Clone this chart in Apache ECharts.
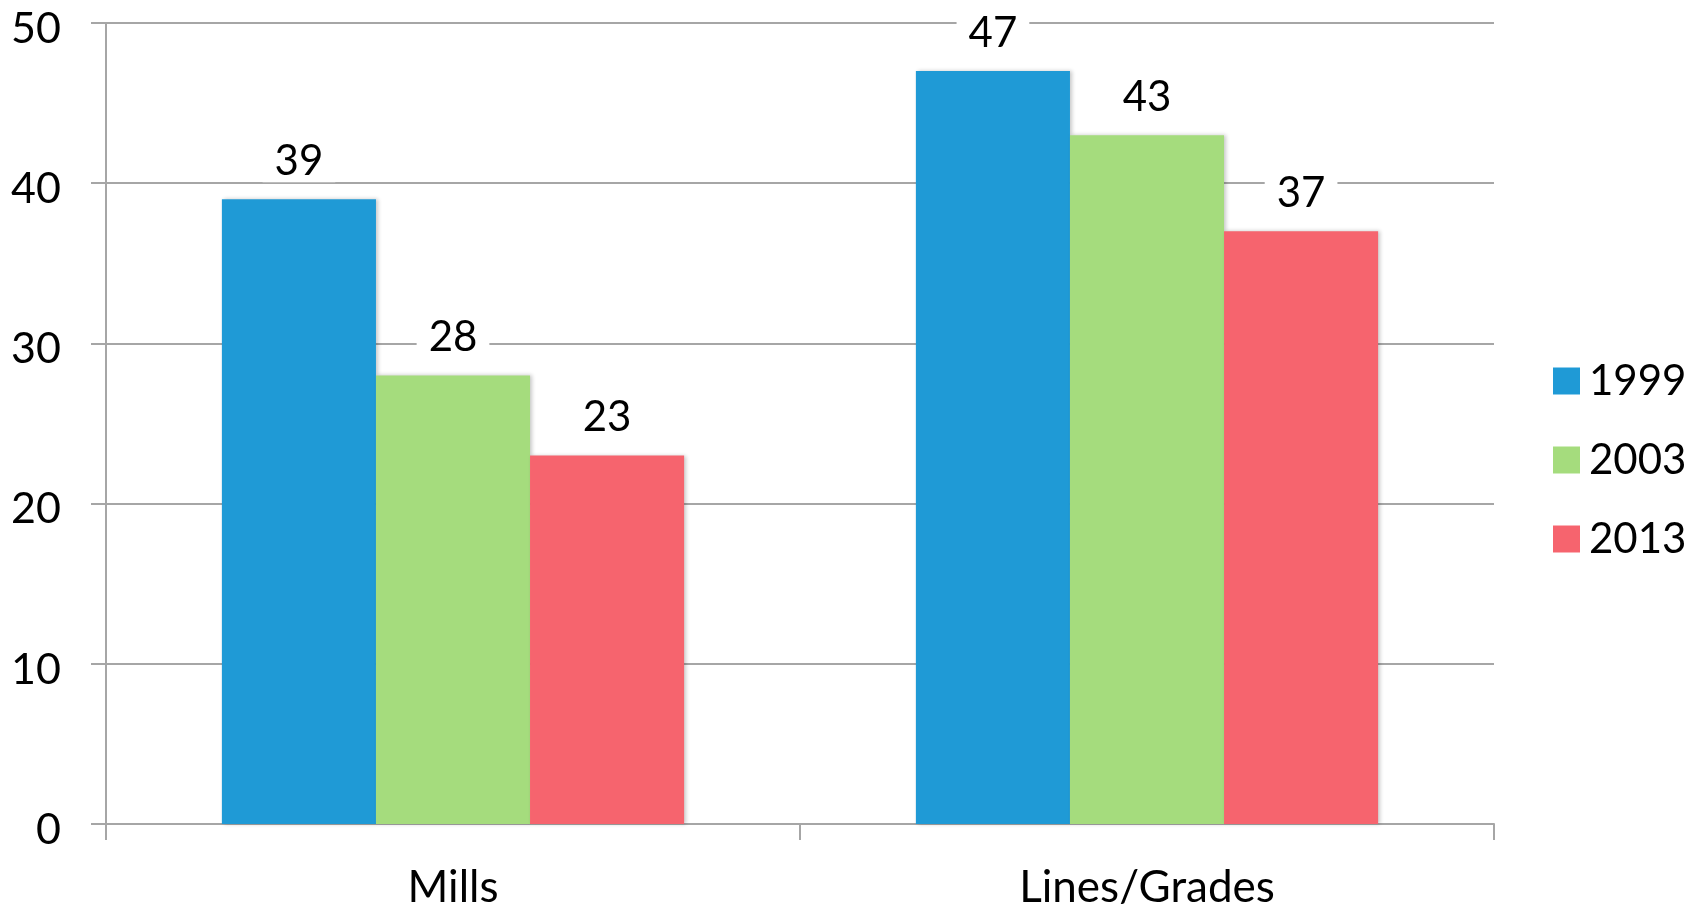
<!DOCTYPE html>
<html>
<head>
<meta charset="utf-8">
<script src="https://cdn.jsdelivr.net/npm/echarts@6/dist/echarts.min.js"></script>
<style>
  html, body { margin: 0; padding: 0; background: #fff; }
  #chart { width: 1698px; height: 912px; }
</style>
</head>
<body>
<div id="chart"></div>
<script>
// Categories, years and counts
const categories = ['Mills', 'Lines/Grades'];
const years = ['1999', '2003', '2013'];
const values1999 = [39, 47];
const values2003 = [28, 43];
const values2013 = [23, 37];
const yearColors = ['#1F9AD6', '#A5DC7D', '#F6646E'];
const yTicks = { min: 0, max: 50, interval: 10 };

const FONT = 'Lato, "Open Sans", sans-serif';
const GRID_GREY = '#a6a6a6';

const seriesValues = [values1999, values2003, values2013];

const chart = echarts.init(document.getElementById('chart'), null, { renderer: 'canvas' });

chart.setOption({
  backgroundColor: '#ffffff',
  animation: false,
  grid: {
    left: 106, right: 204, top: 23, bottom: 88,
    containLabel: false,
    outerBoundsMode: 'none'
  },
  legend: {
    orient: 'vertical',
    left: 1548,
    top: 355,
    itemWidth: 27,
    itemHeight: 27,
    itemGap: 37,
    icon: 'rect',
    data: years,
    textStyle: {
      fontFamily: FONT,
      fontSize: 42,
      lineHeight: 42,
      color: '#000',
      padding: [0, 0, 0, 4]
    }
  },
  xAxis: {
    type: 'category',
    data: categories,
    axisLine: { show: true, lineStyle: { color: GRID_GREY, width: 2 } },
    axisTick: { show: true, length: 16, lineStyle: { color: GRID_GREY, width: 2 } },
    axisLabel: {
      fontFamily: FONT,
      fontSize: 44,
      color: '#000',
      margin: 42
    }
  },
  yAxis: {
    type: 'value',
    min: yTicks.min,
    max: yTicks.max,
    interval: yTicks.interval,
    axisLine: { show: true, lineStyle: { color: GRID_GREY, width: 2 } },
    axisTick: { show: true, length: 15, lineStyle: { color: GRID_GREY, width: 2 } },
    splitLine: { show: true, lineStyle: { color: GRID_GREY, width: 2 } },
    axisLabel: {
      color: '#000',
      margin: 45,
      formatter: '{v|{value}}',
      rich: {
        // tick numbers sit slightly below their grid lines
        v: {
          fontFamily: FONT,
          fontSize: 43,
          lineHeight: 43,
          color: '#000',
          padding: [12, 0, 0, 0]
        }
      }
    }
  },
  series: years.map((yr, i) => ({
    name: yr,
    type: 'bar',
    data: seriesValues[i],
    barGap: '0%',
    barCategoryGap: '33.4%',
    itemStyle: {
      color: yearColors[i],
      shadowColor: 'rgba(0,0,0,0.22)',
      shadowBlur: 4,
      shadowOffsetX: 2,
      shadowOffsetY: 0
    },
    label: {
      show: true,
      position: 'top',
      distance: 17,
      fontFamily: FONT,
      fontSize: 42,
      lineHeight: 42,
      color: '#000',
      backgroundColor: '#ffffff',
      padding: [0, 12]
    }
  }))
});
</script>
</body>
</html>
